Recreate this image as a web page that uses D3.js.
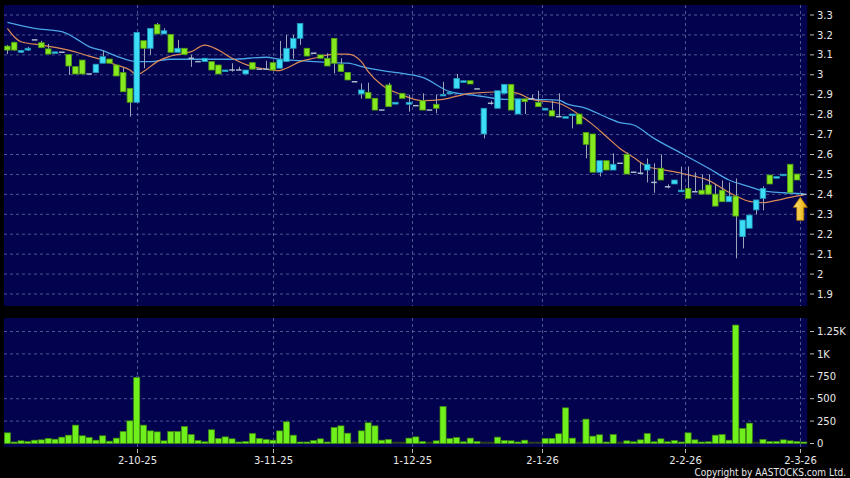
<!DOCTYPE html>
<html><head><meta charset="utf-8">
<script src="https://cdn.jsdelivr.net/npm/d3@7"></script>
<style>
html,body{margin:0;padding:0;background:#000;}
svg{display:block;}
</style></head><body>
<svg id="c" width="850" height="478"></svg>
<script>
// ---- data ----
const opens  = [3.144,3.163,3.113,3.124,3.175,3.161,3.130,3.111,3.113,3.102,3.041,3.074,3.004,3.011,3.058,3.079,3.049,3.011,2.932,2.862,
3.171,3.133,3.253,3.205,3.203,3.113,3.133,3.083,3.066,3.066,3.066,3.049,3.016,3.024,3.024,3.004,3.061,3.028,3.028,3.061,
3.033,3.066,3.133,3.183,3.133,3.108,3.100,3.083,3.183,3.053,3.012,2.965,2.904,2.912,2.882,2.823,2.949,2.853,2.907,2.852,
2.845,2.870,2.823,2.852,2.894,2.907,2.932,2.962,2.970,2.929,2.703,2.857,2.832,2.907,2.952,2.803,2.879,2.880,2.862,2.823,
2.820,2.790,2.782,2.795,2.803,2.711,2.703,2.511,2.569,2.522,2.556,2.601,2.511,2.506,2.522,2.460,2.531,2.438,2.452,2.413,
2.430,2.413,2.421,2.447,2.401,2.421,2.363,2.391,2.188,2.230,2.322,2.380,2.497,2.481,2.494,2.551,2.502,2.400];
const highs  = [3.150,3.166,3.125,3.140,3.175,3.170,3.155,3.115,3.113,3.102,3.041,3.074,3.004,3.053,3.121,3.079,3.049,3.035,2.932,3.215,
3.171,3.233,3.260,3.233,3.203,3.175,3.133,3.100,3.066,3.083,3.066,3.049,3.024,3.058,3.040,3.024,3.061,3.028,3.070,3.061,
3.170,3.200,3.200,3.258,3.133,3.112,3.100,3.108,3.183,3.083,3.012,2.965,2.957,2.960,2.882,2.823,2.960,2.862,2.907,2.899,
2.845,2.907,2.823,2.899,2.965,2.912,3.004,2.970,2.970,2.929,2.832,2.870,2.920,2.952,2.952,2.879,2.879,2.900,2.920,2.832,
2.870,2.907,2.790,2.803,2.803,2.711,2.703,2.569,2.569,2.606,2.556,2.610,2.511,2.560,2.580,2.556,2.600,2.450,2.472,2.539,
2.540,2.510,2.500,2.500,2.450,2.470,2.460,2.480,2.271,2.296,2.372,2.440,2.497,2.489,2.501,2.551,2.502,2.400];
const lows   = [3.104,3.120,3.110,3.120,3.175,3.136,3.104,3.111,3.113,3.000,3.004,3.004,3.004,3.011,3.058,3.058,2.994,2.915,2.790,2.860,
3.033,3.100,3.205,3.205,3.113,3.113,3.102,3.040,3.066,3.066,3.024,3.004,3.016,3.016,3.024,3.004,3.028,3.028,3.028,3.024,
3.033,3.066,3.080,3.150,3.094,3.104,3.083,3.044,3.007,3.016,2.974,2.965,2.880,2.882,2.823,2.823,2.840,2.853,2.882,2.815,
2.845,2.823,2.823,2.807,2.894,2.907,2.932,2.962,2.954,2.929,2.681,2.850,2.832,2.907,2.823,2.803,2.803,2.880,2.840,2.823,
2.793,2.790,2.782,2.731,2.753,2.581,2.511,2.490,2.522,2.522,2.556,2.502,2.511,2.506,2.460,2.408,2.472,2.430,2.452,2.413,
2.380,2.413,2.401,2.401,2.341,2.363,2.363,2.079,2.129,2.230,2.300,2.320,2.452,2.481,2.494,2.408,2.472,2.400];
const closes = [3.124,3.124,3.122,3.133,3.175,3.136,3.104,3.115,3.113,3.044,3.004,3.004,3.004,3.053,3.091,3.058,2.994,2.915,2.862,3.213,
3.133,3.233,3.205,3.221,3.113,3.133,3.102,3.083,3.066,3.083,3.024,3.004,3.024,3.024,3.024,3.024,3.028,3.028,3.028,3.024,
3.078,3.133,3.183,3.258,3.094,3.108,3.083,3.044,3.058,3.016,2.974,2.965,2.924,2.882,2.823,2.823,2.840,2.862,2.882,2.862,
2.845,2.823,2.823,2.832,2.902,2.912,2.982,2.970,2.954,2.929,2.832,2.857,2.920,2.952,2.823,2.879,2.865,2.880,2.840,2.832,
2.793,2.790,2.790,2.803,2.753,2.651,2.511,2.569,2.522,2.551,2.556,2.502,2.511,2.506,2.551,2.460,2.472,2.438,2.472,2.421,
2.380,2.413,2.401,2.401,2.341,2.363,2.391,2.291,2.271,2.296,2.372,2.430,2.452,2.489,2.501,2.408,2.472,2.400];
const volumes = [119,10,30,22,37,41,56,48,71,93,205,86,67,37,86,26,60,134,253,737,
205,141,130,30,134,134,190,100,33,19,153,56,74,52,7,22,112,56,45,37,
141,242,93,15,15,33,52,7,179,197,115,0,141,231,197,37,45,0,3,60,
74,22,0,30,413,56,67,19,60,22,3,3,71,33,30,15,37,3,0,56,
56,108,398,60,0,272,82,97,15,100,3,30,19,41,112,19,52,19,33,11,
119,41,15,19,93,100,37,1322,168,227,3,45,22,22,41,30,22,11];
// moving averages (read at sample candles)
const ma20Idx = [0,4,8,10,12,14,16,19,21,24,28,33,38,40,43,48,50,53,56,58,61,65,68,70,73,77,81,82,85,88,90,92,95,99,103,106,109,111,114,117];
const ma20Val = [3.263,3.233,3.216,3.183,3.141,3.121,3.094,3.066,3.066,3.078,3.078,3.078,3.088,3.078,3.071,3.061,3.058,3.033,3.016,3.007,2.987,2.915,2.899,2.890,2.877,2.877,2.873,2.857,2.832,2.787,2.760,2.748,2.681,2.606,2.531,2.472,2.439,2.417,2.408,2.402];
const ma10Idx = [0,1,2,5,9,12,14,16,18,19,20,22,24,27,29,31,33,36,38,40,41,43,45,48,50,52,53,55,58,61,64,68,73,75,77,81,84,86,88,90,92,94,96,99,101,103,105,107,109,111,113,115,117];
const ma10Val = [3.233,3.191,3.166,3.149,3.124,3.094,3.074,3.049,3.024,2.999,3.016,3.066,3.094,3.116,3.149,3.124,3.083,3.041,3.028,3.021,3.033,3.066,3.083,3.104,3.104,3.066,3.016,2.949,2.899,2.870,2.877,2.907,2.915,2.907,2.877,2.857,2.800,2.750,2.690,2.630,2.585,2.540,2.525,2.506,2.490,2.470,2.430,2.392,2.365,2.358,2.370,2.385,2.397];
const xTickLabels = ["2-10-25","3-11-25","1-12-25","2-1-26","2-2-26","2-3-26"];
const xTickIdx = [19,39,59.4,78.6,99.5,116.5];
const priceTicks = [1.9,2,2.1,2.2,2.3,2.4,2.5,2.6,2.7,2.8,2.9,3,3.1,3.2,3.3];
const volTicks = [0,250,500,750,1000,1250];
const volTickLabels = ["0","250","500","750","1K","1.25K"];

// ---- layout ----
const N = closes.length;
const svg = d3.select("#c");
const L = 4, R = 807.2;
const main = {top:5, bottom:306};
const vol = {top:318, bottom:447};
const x = d3.scaleLinear().domain([-0.5, N-0.5]).range([L, R]);
const step = x(1)-x(0);
const y = d3.scaleLinear().domain([1.9, 3.3]).range([294, 15]);
const yv = d3.scaleLinear().domain([0, 1250]).range([443.5, 331.5]);

const BG = "#02024e", GRID = "#5f6f9f";
const GREEN = "#86e81e", GREEN_S = "#4f9a10";
const CYAN = "#3ddcf7", CYAN_S = "#1f95b5";

svg.append("rect").attr("width",850).attr("height",478).attr("fill","#000");
svg.append("rect").attr("x",L).attr("y",main.top).attr("width",R-L).attr("height",main.bottom-main.top).attr("fill",BG);
svg.append("rect").attr("x",L).attr("y",vol.top).attr("width",R-L).attr("height",vol.bottom-vol.top).attr("fill",BG);

const font = "'DejaVu Sans', sans-serif";
// price grid + axis
const gp = svg.append("g");
priceTicks.forEach(p=>{
  gp.append("line").attr("x1",L).attr("x2",R).attr("y1",y(p)).attr("y2",y(p))
    .attr("stroke",GRID).attr("stroke-width",0.8).attr("stroke-dasharray","3,3");
  gp.append("line").attr("x1",810).attr("x2",814).attr("y1",y(p)).attr("y2",y(p)).attr("stroke","#bbb");
  gp.append("text").attr("x",817).attr("y",y(p)+3.6).text(d3.format("~g")(p))
    .attr("fill","#e8e8e8").attr("font-family",font).attr("font-size",10);
});
volTicks.forEach((v,i)=>{
  if(v>0) gp.append("line").attr("x1",L).attr("x2",R).attr("y1",yv(v)).attr("y2",yv(v))
    .attr("stroke",GRID).attr("stroke-width",0.8).attr("stroke-dasharray","3,3");
  gp.append("line").attr("x1",810).attr("x2",814).attr("y1",yv(v)).attr("y2",yv(v)).attr("stroke","#bbb");
  gp.append("text").attr("x",817).attr("y",yv(v)+3.6).text(volTickLabels[i])
    .attr("fill","#e8e8e8").attr("font-family",font).attr("font-size",10);
});
xTickIdx.forEach((t,i)=>{
  const xx = Math.round(x(t))+0.5;
  [[main.top,main.bottom],[vol.top,vol.bottom]].forEach(([a,b])=>{
    gp.append("line").attr("x1",xx).attr("x2",xx).attr("y1",a).attr("y2",b)
      .attr("stroke",GRID).attr("stroke-width",0.8).attr("stroke-dasharray","3,3");
  });
  gp.append("line").attr("x1",xx).attr("x2",xx).attr("y1",449).attr("y2",453).attr("stroke","#bbb");
  gp.append("text").attr("x",xx).attr("y",464).attr("text-anchor","middle").text(xTickLabels[i])
    .attr("fill","#e8e8e8").attr("font-family",font).attr("font-size",10);
});

// volume bars
const vw = step*0.9;
svg.append("g").selectAll("rect").data(volumes).join("rect")
  .attr("x",(d,i)=>x(i)-vw/2).attr("width",vw)
  .attr("y",d=>Math.min(yv(d), yv(0)-1.5)).attr("height",d=>Math.max(yv(0)-yv(d),1.5))
  .attr("fill",d=>d<5?"#2f4a1a":"#6ff01c").attr("stroke",d=>d<5?"#2a3a20":"#3f8a0c").attr("stroke-width",0.7);

// MA lines
const lineGen = d3.line().x(d=>x(d[0])).y(d=>y(d[1])).curve(d3.curveMonotoneX);
svg.append("path").attr("d",lineGen(ma20Idx.map((k,i)=>[k,ma20Val[i]])))
  .attr("fill","none").attr("stroke","#4aa6e6").attr("stroke-width",1.3);
svg.append("path").attr("d",lineGen(ma10Idx.map((k,i)=>[k,ma10Val[i]])))
  .attr("fill","none").attr("stroke","#dc8a55").attr("stroke-width",1.2);

// candles
const bw = step*0.82;
const cg = svg.append("g");
for(let i=0;i<N;i++){
  const o=opens[i], c=closes[i], h=highs[i], l=lows[i];
  const cx = Math.round(x(i))+0.5;
  cg.append("line").attr("x1",cx).attr("x2",cx).attr("y1",y(h)).attr("y2",y(l))
    .attr("stroke","#9aa6b8").attr("stroke-width",1);
  if (Math.abs(o-c) < 0.0005) {
    cg.append("line").attr("x1",x(i)-bw/2).attr("x2",x(i)+bw/2).attr("y1",y(c)).attr("y2",y(c))
      .attr("stroke","#a9bccb").attr("stroke-width",1.5);
  } else {
    const up = c>o;
    const top = y(Math.max(o,c)), bot = y(Math.min(o,c));
    cg.append("rect").attr("x",x(i)-bw/2).attr("y",top).attr("width",bw).attr("height",Math.max(bot-top,1.5))
      .attr("fill",up?CYAN:GREEN).attr("stroke",up?CYAN_S:GREEN_S).attr("stroke-width",0.8);
  }
}

// arrow marker at the latest bar
const defs = svg.append("defs");
const gr = defs.append("linearGradient").attr("id","ag").attr("x1",0).attr("x2",1).attr("y1",0).attr("y2",0);
gr.append("stop").attr("offset","0%").attr("stop-color","#ffe97a");
gr.append("stop").attr("offset","100%").attr("stop-color","#e6a400");
const ax = x(N-1)-3.5, ay = y(2.385);
svg.append("path")
  .attr("d",`M${ax},${ay} l7,10 h-3.5 v13 h-7 v-13 h-3.5 z`)
  .attr("fill","url(#ag)").attr("stroke","#b07a00").attr("stroke-width",0.8);

svg.append("text").attr("x",846).attr("y",476).attr("text-anchor","end")
  .text("Copyright by AASTOCKS.com Ltd.")
  .attr("fill","#e8e8e8").attr("font-family","'DejaVu Sans Condensed','DejaVu Sans',sans-serif")
  .attr("font-stretch","condensed").attr("font-size",10);
</script>
</body></html>
